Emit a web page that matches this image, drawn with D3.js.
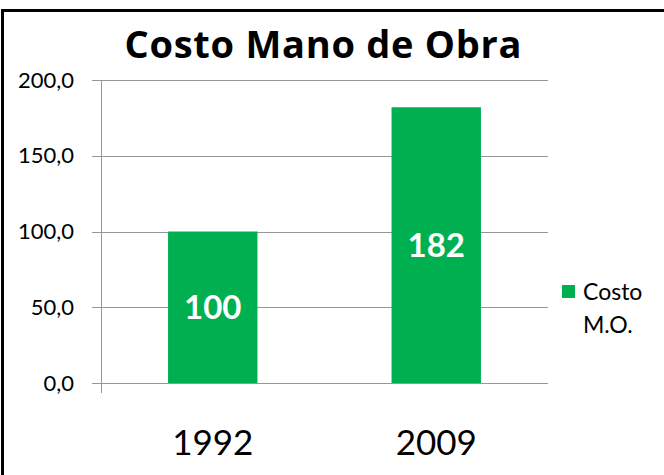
<!DOCTYPE html>
<html>
<head>
<meta charset="utf-8">
<script src="https://cdn.jsdelivr.net/npm/d3@7"></script>
<style>
  html, body { margin: 0; padding: 0; background: #fff; }
  svg { display: block; }
  text { font-family: Lato, "Open Sans", sans-serif; }
</style>
</head>
<body>
<svg id="chart" width="664" height="475"></svg>
<script>
const title = "Costo Mano de Obra";
const categories = ["1992", "2009"];
const values = [100, 182];
const seriesName = ["Costo", "M.O."];
const yTicks = [0, 50, 100, 150, 200];

const svg = d3.select("#chart");
const plot = { left: 101, right: 548, top: 80, bottom: 383 };

// outer border (clipped on right/bottom like the reference)
svg.append("rect")
  .attr("x", 2.5).attr("y", 10.5)
  .attr("width", 800).attr("height", 600)
  .attr("fill", "none").attr("stroke", "#000").attr("stroke-width", 3);

const x = d3.scaleBand().domain(categories).range([plot.left, plot.right]).paddingInner(0.6).paddingOuter(0.3);
const y = d3.scaleLinear().domain([0, 200]).range([plot.bottom, plot.top]);

const fmt = v => d3.format(".1f")(v).replace(".", ",");

// gridlines
svg.append("g").selectAll("line").data(yTicks).join("line")
  .attr("x1", plot.left - 9).attr("x2", plot.right)
  .attr("y1", d => Math.round(y(d)) + 0.5).attr("y2", d => Math.round(y(d)) + 0.5)
  .attr("stroke", "#979797").attr("stroke-width", 1);

// y axis line
svg.append("line")
  .attr("x1", plot.left + 0.5).attr("x2", plot.left + 0.5)
  .attr("y1", plot.top).attr("y2", plot.bottom + 10)
  .attr("stroke", "#979797").attr("stroke-width", 1);

// y tick labels
svg.append("g").selectAll("text").data(yTicks).join("text")
  .attr("x", 74).attr("y", d => y(d))
  .attr("dy", "0.35em")
  .attr("text-anchor", "end")
  .attr("font-size", 22)
  .attr("fill", "#000")
  .text(fmt);

// bars
svg.append("g").selectAll("rect").data(values).join("rect")
  .attr("x", (d, i) => x(categories[i]))
  .attr("width", x.bandwidth())
  .attr("y", d => y(d))
  .attr("height", d => y(0) - y(d))
  .attr("fill", "#00B050");

// bar labels
svg.append("g").selectAll("text").data(values).join("text")
  .attr("x", (d, i) => x(categories[i]) + x.bandwidth() / 2)
  .attr("y", d => (y(d) + y(0)) / 2)
  .attr("dy", "0.36em")
  .attr("text-anchor", "middle")
  .attr("font-size", 33)
  .attr("font-weight", "bold")
  .attr("fill", "#fff")
  .text(d => d);

// category labels
svg.append("g").selectAll("text").data(categories).join("text")
  .attr("x", d => x(d) + x.bandwidth() / 2)
  .attr("y", 455)
  .attr("text-anchor", "middle")
  .attr("font-size", 35)
  .attr("fill", "#000")
  .text(d => d);

// title
svg.append("text")
  .attr("x", 323).attr("y", 58)
  .attr("text-anchor", "middle")
  .style("font-family", "'Open Sans', Lato, sans-serif")
  .attr("font-size", 38)
  .attr("font-weight", "bold")
  .attr("textLength", 397)
  .attr("lengthAdjust", "spacing")
  .attr("fill", "#000")
  .text(title);

// legend
const lg = svg.append("g");
lg.append("rect").attr("x", 562).attr("y", 285).attr("width", 13).attr("height", 13).attr("fill", "#00B050");
lg.selectAll("text").data(seriesName).join("text")
  .attr("x", 583).attr("y", (d, i) => 300 + i * 33)
  .attr("font-size", 23)
  .attr("fill", "#000")
  .text(d => d);
</script>
</body>
</html>
